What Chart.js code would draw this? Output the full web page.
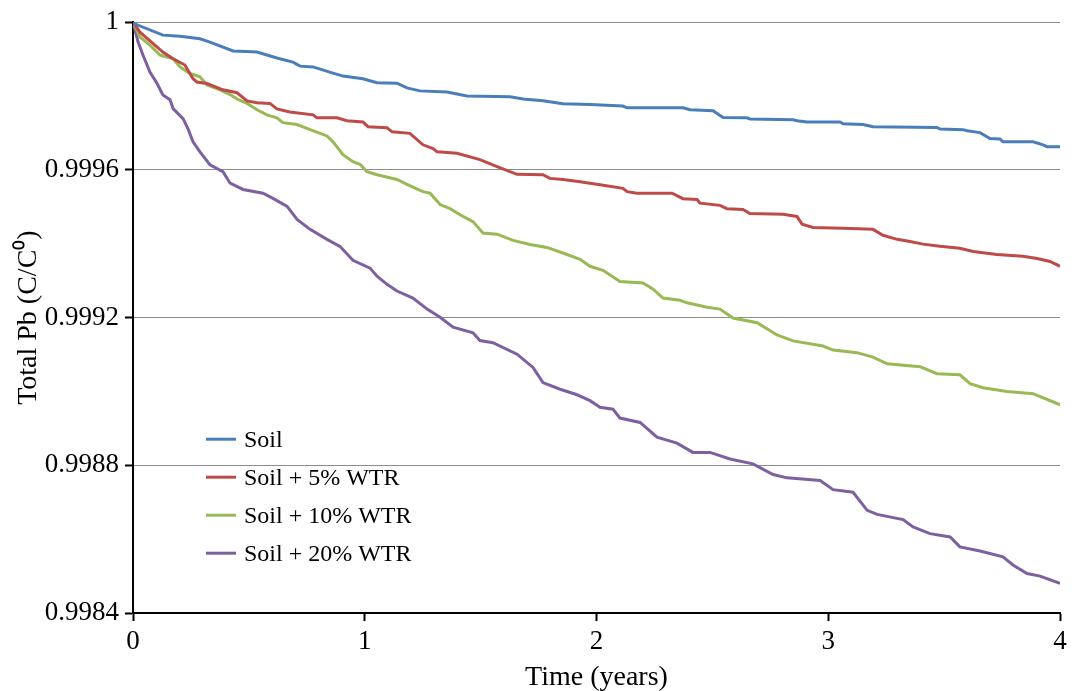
<!DOCTYPE html>
<html>
<head>
<meta charset="utf-8">
<script src="https://cdn.jsdelivr.net/npm/chart.js@4"></script>
<style>
  html, body { margin: 0; padding: 0; background: #fff; }
  #wrap { width: 1072px; height: 691px; }
</style>
</head>
<body>
<div id="wrap"><canvas id="c" width="1072" height="691"></canvas></div>
<script>
// ---- data (time in years, total Pb as C/C0) ----
const seriesLabels = ["Soil", "Soil + 5% WTR", "Soil + 10% WTR", "Soil + 20% WTR"];
const seriesColors = ["#4a7ebb", "#be4b48", "#98b954", "#7d60a0"];

const soilT = [0,0.017,0.129,0.203,0.289,0.332,0.432,0.535,0.621,0.690,0.721,0.777,0.863,0.906,0.992,1.053,1.139,1.182,1.238,1.355,1.441,1.627,1.683,1.769,1.855,1.972,2.114,2.132,2.373,2.404,2.503,2.546,2.649,2.662,2.848,2.865,2.908,3.051,3.064,3.150,3.193,3.469,3.482,3.581,3.599,3.655,3.698,3.741,3.754,3.884,3.927,3.944,4.0];
const soilV = [1.0,0.999993,0.999965,0.999962,0.999955,0.999946,0.999922,0.999919,0.999903,0.999892,0.999881,0.999879,0.999862,0.999854,0.999847,0.999836,0.999835,0.999822,0.999814,0.999811,0.999800,0.999798,0.999792,0.999787,0.999779,0.999777,0.999773,0.999768,0.999768,0.999763,0.999760,0.999742,0.999741,0.999738,0.999736,0.999733,0.999730,0.999730,0.999725,0.999723,0.999717,0.999715,0.999711,0.999709,0.999706,0.999701,0.999685,0.999684,0.999676,0.999676,0.999668,0.999663,0.999663];

const wtr5T = [0,0.030,0.129,0.173,0.224,0.259,0.276,0.319,0.388,0.449,0.492,0.535,0.591,0.621,0.677,0.777,0.794,0.880,0.923,0.992,1.014,1.096,1.118,1.195,1.251,1.295,1.312,1.398,1.497,1.571,1.657,1.769,1.799,1.855,1.929,2.015,2.114,2.132,2.175,2.326,2.373,2.434,2.447,2.533,2.563,2.632,2.662,2.805,2.865,2.887,2.934,3.064,3.193,3.236,3.297,3.353,3.409,3.482,3.568,3.625,3.728,3.840,3.901,3.957,4.0];
const wtr5V = [1.0,0.999973,0.999919,0.999901,0.999884,0.999847,0.999838,0.999834,0.999817,0.999809,0.999787,0.999782,0.999780,0.999765,0.999757,0.999749,0.999741,0.999741,0.999733,0.999730,0.999717,0.999714,0.999703,0.999699,0.999668,0.999658,0.999649,0.999645,0.999628,0.999609,0.999588,0.999587,0.999577,0.999574,0.999568,0.999560,0.999550,0.999541,0.999537,0.999537,0.999522,0.999520,0.999510,0.999504,0.999495,0.999493,0.999482,0.999480,0.999474,0.999453,0.999444,0.999442,0.999439,0.999423,0.999412,0.999406,0.999399,0.999393,0.999388,0.999379,0.999371,0.999366,0.999360,0.999352,0.999339];

const wtr10T = [0,0.030,0.073,0.117,0.173,0.203,0.246,0.289,0.319,0.375,0.419,0.449,0.492,0.535,0.578,0.621,0.647,0.708,0.764,0.837,0.863,0.906,0.949,0.980,1.010,1.053,1.139,1.182,1.251,1.282,1.325,1.368,1.424,1.467,1.510,1.571,1.640,1.713,1.786,1.855,1.929,1.972,2.028,2.101,2.201,2.244,2.287,2.360,2.391,2.477,2.533,2.589,2.693,2.779,2.848,2.977,3.021,3.124,3.193,3.254,3.396,3.469,3.568,3.612,3.668,3.771,3.884,4.0];
const wtr10V = [1.0,0.999960,0.999938,0.999911,0.999901,0.999879,0.999861,0.999852,0.999830,0.999817,0.999804,0.999792,0.999780,0.999763,0.999749,0.999741,0.999728,0.999723,0.999709,0.999692,0.999676,0.999641,0.999622,0.999615,0.999595,0.999587,0.999574,0.999561,0.999541,0.999537,0.999506,0.999495,0.999474,0.999460,0.999429,0.999426,0.999409,0.999398,0.999390,0.999375,0.999358,0.999339,0.999328,0.999298,0.999294,0.999277,0.999253,0.999247,0.999240,0.999228,0.999223,0.999199,0.999186,0.999153,0.999137,0.999123,0.999112,0.999105,0.999093,0.999075,0.999067,0.999048,0.999045,0.999021,0.999010,0.999000,0.998994,0.998964];

const wtr20T = [0,0.022,0.043,0.073,0.104,0.129,0.160,0.173,0.216,0.237,0.259,0.289,0.332,0.388,0.419,0.475,0.561,0.604,0.665,0.708,0.764,0.837,0.893,0.949,1.023,1.053,1.096,1.139,1.208,1.269,1.325,1.381,1.467,1.497,1.553,1.657,1.726,1.769,1.843,1.916,1.972,2.015,2.071,2.101,2.188,2.261,2.347,2.416,2.490,2.576,2.675,2.762,2.822,2.965,3.021,3.107,3.168,3.211,3.323,3.366,3.439,3.526,3.568,3.655,3.754,3.797,3.858,3.914,4.0];
const wtr20V = [1.0,0.999946,0.999911,0.999865,0.999834,0.999803,0.999790,0.999766,0.999739,0.999712,0.999676,0.999649,0.999614,0.999595,0.999564,0.999547,0.999537,0.999523,0.999501,0.999466,0.999439,0.999412,0.999393,0.999355,0.999334,0.999312,0.999290,0.999272,0.999253,0.999223,0.999201,0.999174,0.999159,0.999138,0.999132,0.999101,0.999065,0.999024,0.999006,0.998991,0.998975,0.998957,0.998952,0.998928,0.998916,0.998876,0.998860,0.998835,0.998835,0.998817,0.998804,0.998775,0.998766,0.998759,0.998734,0.998727,0.998678,0.998667,0.998653,0.998633,0.998615,0.998606,0.998579,0.998568,0.998552,0.998530,0.998507,0.998500,0.998480];

const xTicks = [0, 1, 2, 3, 4];
const yTicks = [0.9984, 0.9988, 0.9992, 0.9996, 1];
const xTitle = "Time (years)";
const yTitle = "Total Pb (C/C\u2070)";

// ---- build datasets ----
const seriesT = [soilT, wtr5T, wtr10T, wtr20T];
const seriesV = [soilV, wtr5V, wtr10V, wtr20V];
const datasets = seriesLabels.map((lab, i) => ({
  label: lab,
  data: seriesT[i].map((t, k) => ({ x: t, y: seriesV[i][k] })),
  borderColor: seriesColors[i],
  backgroundColor: seriesColors[i],
  borderWidth: 3,
  pointRadius: 0,
  tension: 0,
  fill: false
}));

const FONT = "'Liberation Serif', 'Times New Roman', serif";

// custom legend drawn inside the plot area
const innerLegend = {
  id: 'innerLegend',
  afterDatasetsDraw(chart) {
    const ctx = chart.ctx;
    const area = chart.chartArea;
    const x0 = area.left + 73, x1 = area.left + 103, tx = area.left + 111;
    const y0 = area.top + 417, dy = 38;
    ctx.save();
    ctx.font = "24px " + FONT;
    ctx.textBaseline = 'middle';
    ctx.textAlign = 'left';
    chart.data.datasets.forEach((ds, i) => {
      const y = y0 + i * dy;
      ctx.strokeStyle = ds.borderColor;
      ctx.lineWidth = 3;
      ctx.beginPath();
      ctx.moveTo(x0, y);
      ctx.lineTo(x1, y);
      ctx.stroke();
      ctx.fillStyle = '#000';
      ctx.fillText(ds.label, tx, y + 2);
    });
    ctx.restore();
  }
};

new Chart(document.getElementById('c'), {
  type: 'line',
  data: { datasets },
  plugins: [innerLegend],
  options: {
    responsive: false,
    animation: false,
    layout: { padding: { top: 20, right: 12, left: 0, bottom: 0 } },
    plugins: { legend: { display: false }, tooltip: { enabled: false } },
    scales: {
      x: {
        type: 'linear',
        min: 0, max: 4,
        afterBuildTicks: (s) => { s.ticks = xTicks.map(v => ({ value: v })); },
        afterFit: (s) => { s.height = 78; },
        ticks: { color: '#000', font: { family: FONT, size: 27 }, padding: 5, maxRotation: 0,
                 callback: (v) => String(v) },
        grid: { drawOnChartArea: false, tickLength: 8, tickColor: '#000', tickWidth: 2 },
        border: { display: true, color: '#000', width: 2 },
        title: { display: true, text: xTitle, color: '#000', font: { family: FONT, size: 28 },
                 padding: { top: 0, bottom: -3 } }
      },
      y: {
        type: 'linear',
        min: 0.9984, max: 1,
        afterBuildTicks: (s) => { s.ticks = yTicks.map(v => ({ value: v })); },
        afterFit: (s) => { s.width = 133; },
        ticks: { color: '#000', font: { family: FONT, size: 27 }, padding: 6,
                 callback: (v) => String(+v.toFixed(4)) },
        grid: { color: (c) => (c.tick && c.tick.value === 0.9984) ? 'rgba(0,0,0,0)' : '#8c8c8c',
                lineWidth: 1, tickLength: 8, tickColor: '#000', tickWidth: 2 },
        border: { display: true, color: '#000', width: 2 },
        title: { display: true, text: yTitle, color: '#000', font: { family: FONT, size: 28 },
                 padding: { top: 12, bottom: 0 } }
      }
    }
  }
});
</script>
</body>
</html>
